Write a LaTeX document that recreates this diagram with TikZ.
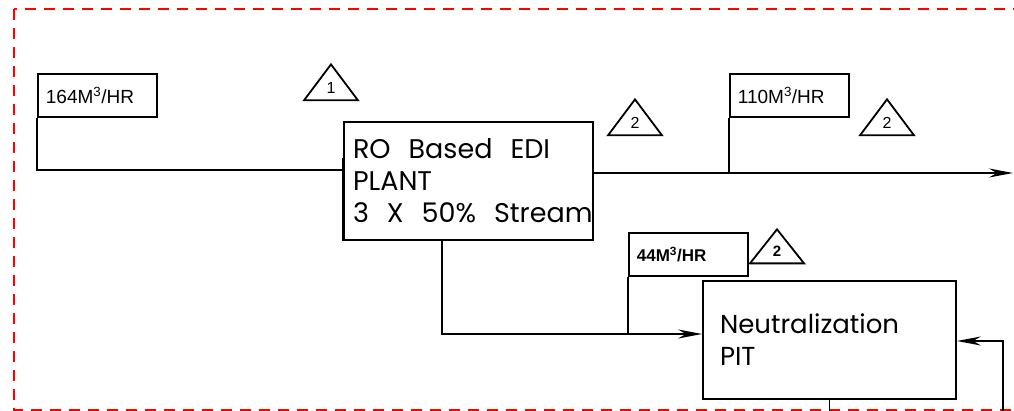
\documentclass[tikz,border=0pt]{standalone}
\usepackage{fontspec}
\usetikzlibrary{
    shapes.geometric,
    arrows.meta,
    positioning,
    calc
}
\newfontfamily\boxfont{Poppins}
\newfontfamily\tagfont{Liberation Sans}

\begin{document}
\begin{tikzpicture}[
        x=1pt, y=-1pt,
        line width=1.8pt,
        unit/.style={draw, align=left, minimum height=118pt, inner xsep=9pt},
        tag/.style={draw, anchor=north west, align=left, minimum height=43pt, text width=103pt, inner xsep=8pt, font=\tagfont\fontsize{19}{20}\selectfont},
        rev/.style={draw, isosceles triangle, shape border rotate=90, isosceles triangle stretches, anchor=apex, minimum width=54pt, minimum height=36pt, inner sep=0pt, font=\tagfont\fontsize{16}{16}\selectfont},
        arrow/.style={-{Stealth[length=24pt, width=9pt]}}
    ]
        \useasboundingbox (0,0) rectangle (1014,411);

        % battery limit
        \draw[red, line width=2pt, dash pattern=on 11pt off 8pt] (14,9) rectangle (1030,410);

        % RO plant
        \node[unit, text width=231pt, font=\boxfont\fontsize{27}{32}\selectfont] (ro) at (468.5,181) {
            RO~ Based~ EDI\\
            PLANT\\
            3~ X~ 50\%~ Stream
        };
        \draw[line width=3pt] (ro.west |- 0,158) -- (ro.south west);

        % Neutralization pit
        \node[unit, text width=219pt, inner xsep=17pt, font=\boxfont\fontsize{26}{32}\selectfont] (pit) at (829.5,340) {
            Neutralization\\
            PIT\\[14pt]
        };

        % flow tags
        \node[tag] (in164) at (37,73) {164M\textsuperscript{3}/HR};
        \node[tag] (out110) at (729,73) {110M\textsuperscript{3}/HR};
        \node[tag, font=\tagfont\bfseries\fontsize{17}{20}\selectfont] (rej44) at (628,232) {44M\textsuperscript{3}/HR};

        % revision marks
        \node[rev] (rev1) at (331,62) {1};
        \node[rev] (rev2a) at (635,97) {2};
        \node[rev] (rev2b) at (887,97) {2};
        \node[rev, minimum height=34pt, font=\tagfont\bfseries\fontsize{15}{15}\selectfont] (rev2c) at (777,227) {2};

        % free ends
        \coordinate (prodout) at (1013,173);
        \coordinate (retin) at (1003,412);

        % Lines
        \draw[line width=2.4pt] (in164.south west) |- (ro.west |- 0,170);
        \draw[arrow] (ro.east |- 0,173) -- (prodout);
        \draw (out110.south west) -- (out110.south west |- 0,173);
        \draw[arrow] (ro.south -| 442,0) |- (pit.west |- 0,334);
        \draw (rej44.south west) -- (rej44.south west |- 0,334);
        \draw[arrow] (retin) |- (pit.east |- 0,341);
        \draw (pit.south) -- ++(0,14);
    \end{tikzpicture}
\end{document}
